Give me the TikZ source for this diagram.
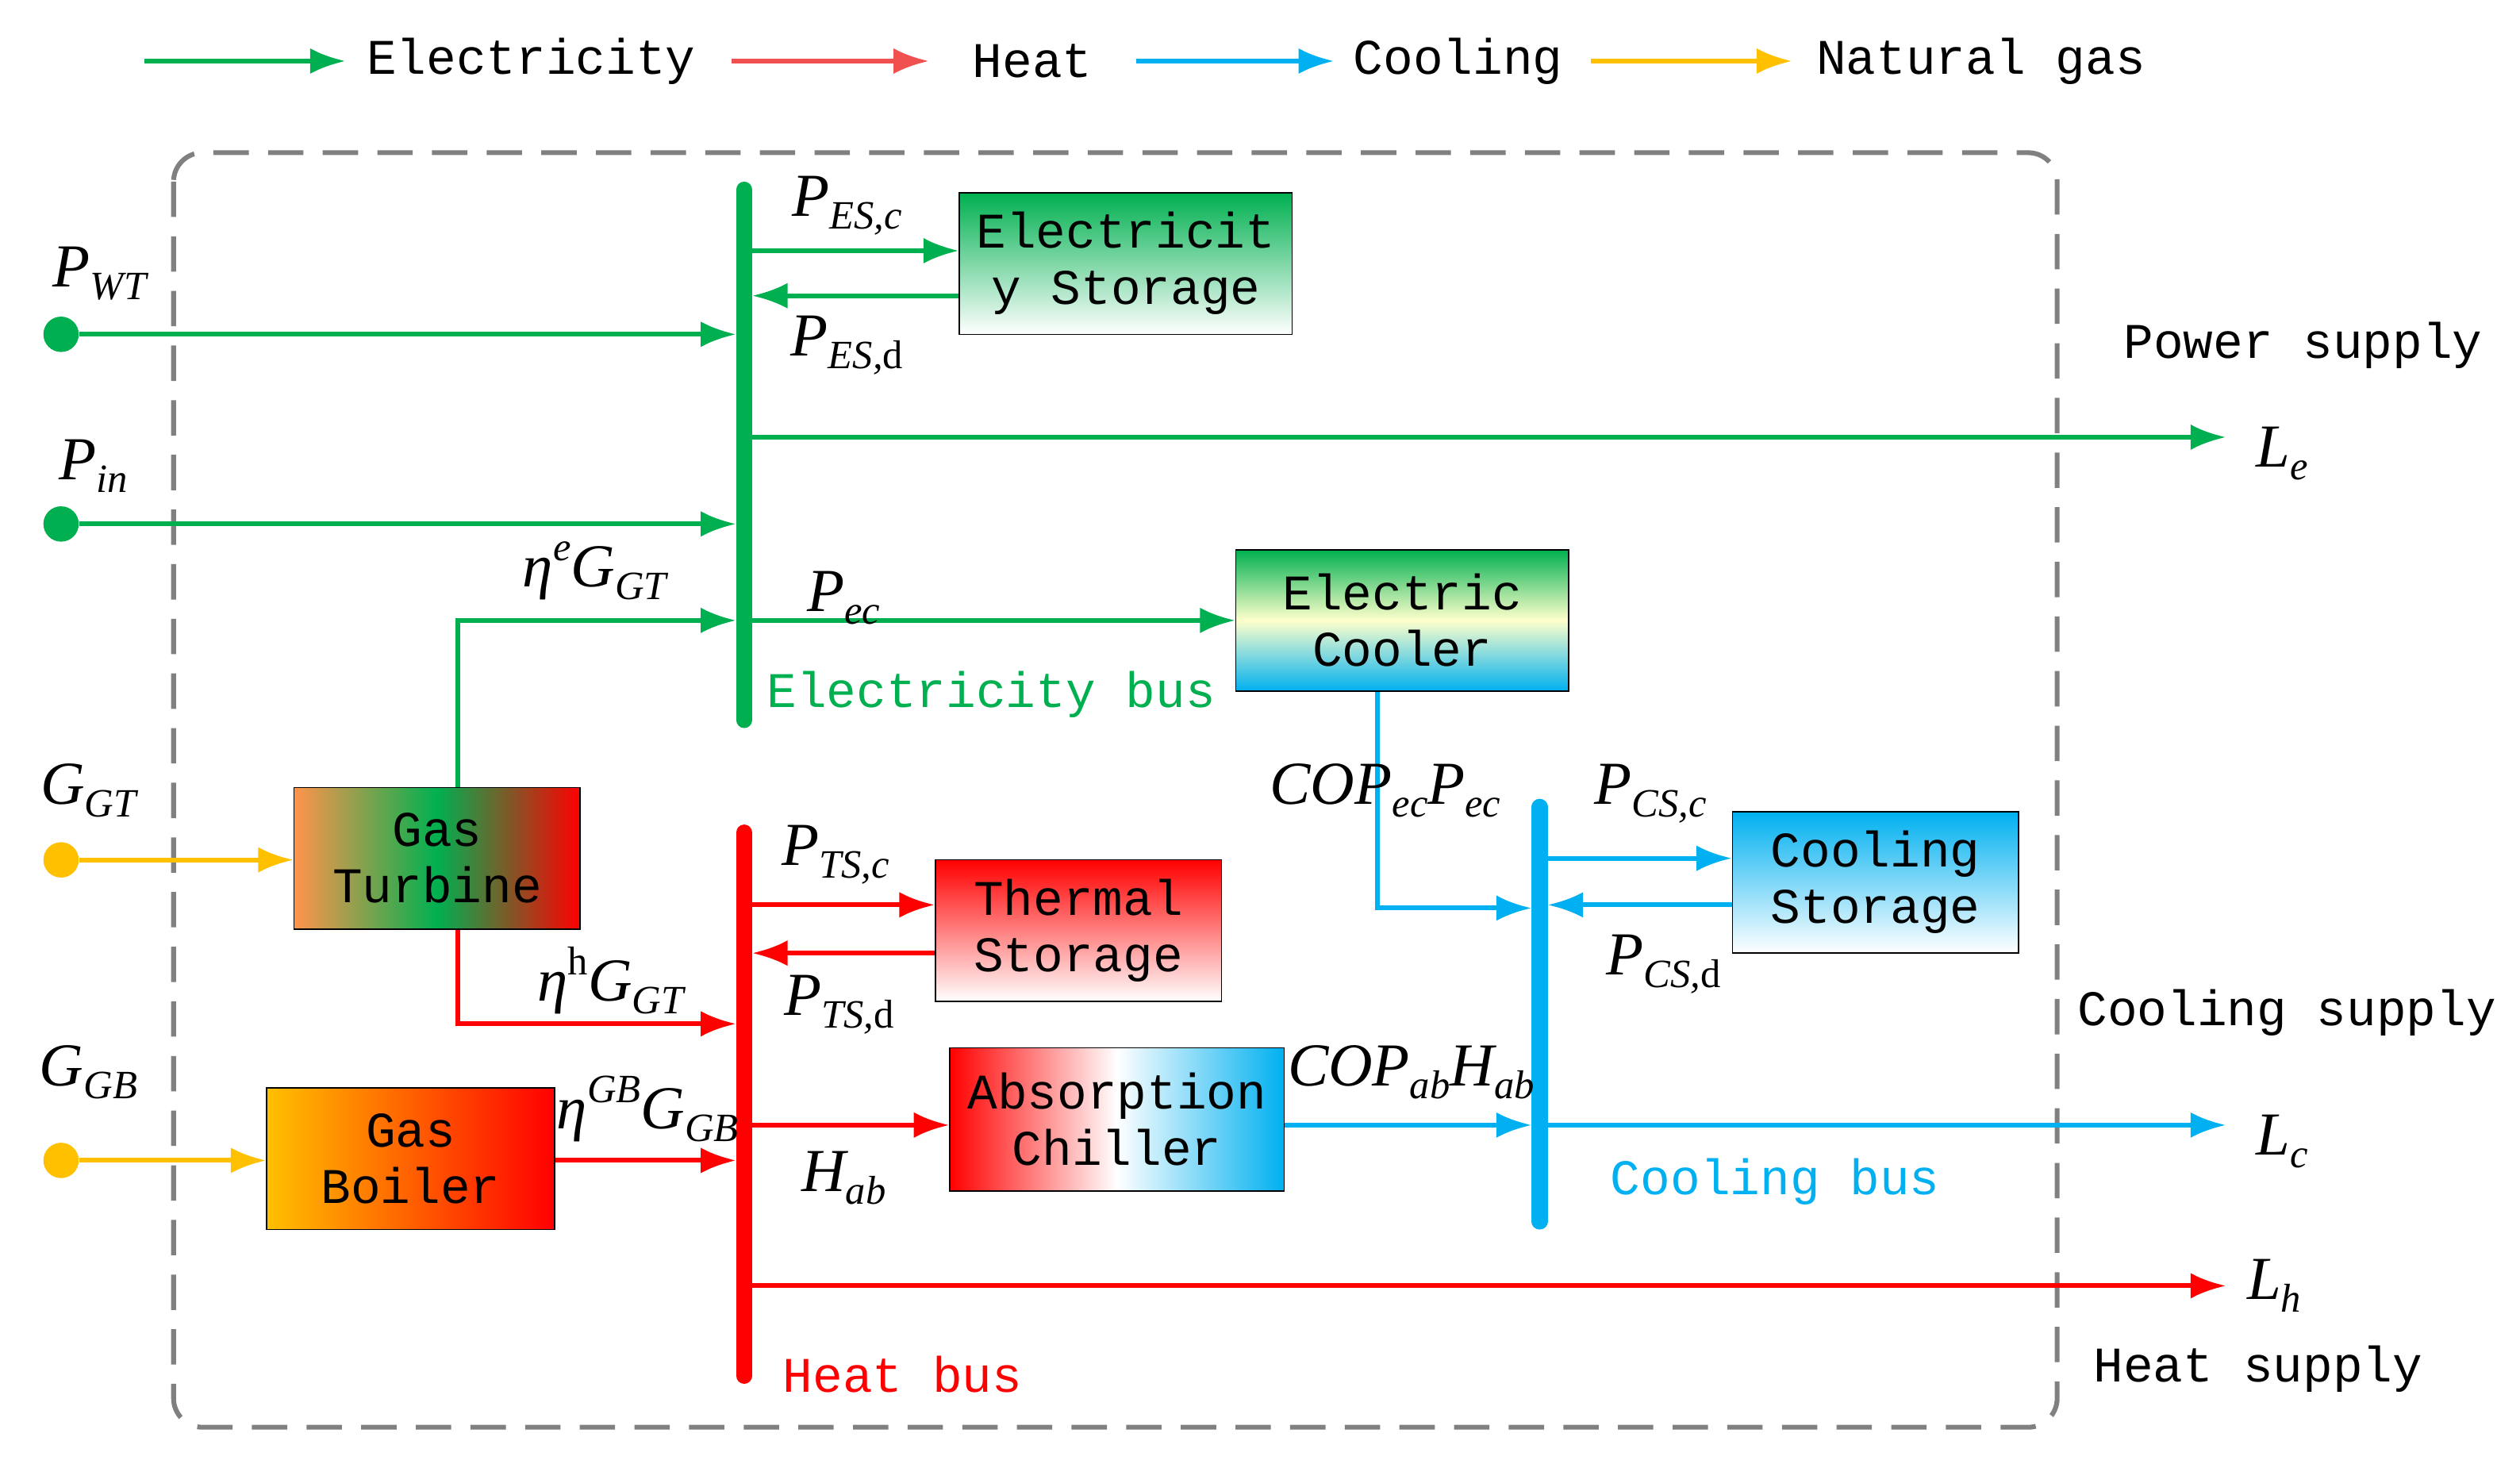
\documentclass[tikz,border=0pt]{standalone}
\usepackage{fontspec}
\setmainfont{Liberation Serif}
\newfontfamily\monof{Liberation Mono}
\usetikzlibrary{arrows.meta,calc}
\definecolor{eg}{RGB}{0,176,80}
\definecolor{hr}{RGB}{255,0,0}
\definecolor{cb}{RGB}{0,176,240}
\definecolor{ng}{RGB}{255,192,0}
\definecolor{lr}{RGB}{240,80,80}
\newcommand\sbx[1]{\raisebox{-0.45ex}{\fontsize{25}{27}\selectfont #1}}
\newcommand\spx[1]{\raisebox{0.95ex}{\fontsize{25}{27}\selectfont #1}}
\begin{document}
\begin{tikzpicture}[x=1pt,y=-1pt,
 box/.style={draw=black,line width=0.8pt,align=center,inner sep=0pt,font=\monof\fontsize{31}{35}\selectfont},
 arr/.style={line width=3pt,-{Latex[length=22pt,width=16pt]}},
 bus/.style={line width=10pt,line cap=round},
 dot/.style={circle,inner sep=0pt,minimum size=22pt},
 mlab/.style={font=\fontsize{38}{42}\selectfont\itshape,inner sep=0pt},
 tlab/.style={font=\monof\fontsize{31}{35}\selectfont,inner sep=0pt}]
\useasboundingbox (0,0) rectangle (1568,910.4);
% legend
\draw[arr,eg] (90,38) coordinate(l1a) -- (215,38) coordinate(l1b);
\node[tlab,anchor=west] (t1) at (228,38) {Electricity};
\draw[arr,lr] (455,38) coordinate(l2a) -- (578,38) coordinate(l2b);
\node[tlab,anchor=west] (t2) at (605,38) {Heat};
\draw[arr,cb] (707,38) coordinate(l3a) -- (830,38) coordinate(l3b);
\node[tlab,anchor=west] (t3) at (842,38) {Cooling};
\draw[arr,ng] (990,38) coordinate(l4a) -- (1115,38) coordinate(l4b);
\node[tlab,anchor=west] (t4) at (1130,38) {Natural gas};
% frame
\draw[gray,line width=3pt,dash pattern=on 22pt off 12pt,rounded corners=18pt] (108,95) rectangle (1280,888);
% buses
\coordinate (ebT) at (463,118); \coordinate (ebB) at (463,448);
\coordinate (hbT) at (463,518); \coordinate (hbB) at (463,856);
\coordinate (cbT) at (958,502); \coordinate (cbB) at (958,760);
\draw[bus,eg] (ebT) -- (ebB);
\draw[bus,hr] (hbT) -- (hbB);
\draw[bus,cb] (cbT) -- (cbB);
\node[tlab,text=eg,anchor=west] (ebl) at (477,432) {Electricity bus};
\node[tlab,text=hr,anchor=west] (hbl) at (487,855) {Heat bus};
\node[tlab,text=cb,anchor=west] (cbl) at (1002,735) {Cooling bus};
% boxes
\node[box,minimum width=207pt,minimum height=88pt,top color=eg,bottom color=white] (es) at (700.5,164) {Electricit\\y Storage};
\node[box,minimum width=207pt,minimum height=88pt,top color=eg,bottom color=cb,middle color=white!80!yellow] (ec) at (872.5,386) {Electric\\Cooler};
\node[box,minimum width=178pt,minimum height=88pt,shading angle=135,left color=orange!80!red!70,right color=hr,middle color=eg] (gt) at (272,534) {Gas\\Turbine};
\node[box,minimum width=179pt,minimum height=88pt,left color=ng,right color=hr] (gb) at (255.5,721) {Gas\\Boiler};
\node[box,minimum width=178pt,minimum height=88pt,top color=hr,bottom color=white] (ts) at (671,579) {Thermal\\Storage};
\node[box,minimum width=208pt,minimum height=89pt,left color=hr,right color=cb,middle color=white] (ac) at (695,696.5) {Absorption\\Chiller};
\node[box,minimum width=178pt,minimum height=88pt,top color=cb,bottom color=white] (cs) at (1167,549) {Cooling\\Storage};
% sources
\node[dot,fill=eg] (pwt) at (38,208) {};
\node[dot,fill=eg] (pin) at (38,326) {};
\node[dot,fill=ng] (ggt) at (38,535) {};
\node[dot,fill=ng] (ggb) at (38,722) {};
\node[mlab] at (62,170) {P\sbx{WT}};
\node[mlab] at (58,290) {P\sbx{in}};
\node[mlab] at (55,492) {G\sbx{GT}};
\node[mlab] at (55,667) {G\sbx{GB}};
\draw[arr,eg] (pwt) -- ([xshift=-5pt]ebT |- pwt);
\draw[arr,eg] (pin) -- ([xshift=-5pt]ebT |- pin);
\draw[arr,ng] (ggt) -- (gt.west |- ggt);
\draw[arr,ng] (ggb) -- (gb.west |- ggb);
% electricity
\draw[arr,eg] ([xshift=5pt]ebT |- 0,156) -- (es.west |- 0,156);
\draw[arr,eg] (es.west |- 0,184) -- ([xshift=5pt]ebT |- 0,184);
\node[mlab] at (527,128) {P\sbx{ES,c}};
\node[mlab] at (527,215) {P\sbx{ES,\upshape d}};
\coordinate (le) at (1385,272);
\draw[arr,eg] ([xshift=5pt]ebT |- le) -- (le);
\node[mlab] at (1420,282) {L\sbx{e}};
\node[tlab] at (1433,215) {Power supply};
\draw[arr,eg] (gt.north -| 285,0) |- ([xshift=-5pt]ebT |- 0,386);
\node[mlab] at (370,355) {η\spx{e}G\sbx{GT}};
\draw[arr,eg] ([xshift=5pt]ebT |- ec.west) -- (ec.west);
\node[mlab] at (525,372) {P\sbx{ec}};
% cooling
\draw[arr,cb] (ec.south -| 857,0) |- ([xshift=-5pt]cbT |- 0,565);
\node[mlab] at (862,492) {COP\sbx{ec}P\sbx{ec}};
\draw[arr,cb] ([xshift=5pt]cbT |- 0,534) -- (cs.west |- 0,534);
\draw[arr,cb] (cs.west |- 0,563) -- ([xshift=5pt]cbT |- 0,563);
\node[mlab] at (1027,494) {P\sbx{CS,c}};
\node[mlab] at (1035,600) {P\sbx{CS,\upshape d}};
\draw[arr,cb] (ac.east |- 0,700) -- ([xshift=-5pt]cbT |- 0,700);
\node[mlab] at (878,667) {COP\sbx{ab}H\sbx{ab}};
\coordinate (lc) at (1385,700);
\draw[arr,cb] ([xshift=5pt]cbT |- lc) -- (lc);
\node[mlab] at (1420,710) {L\sbx{c}};
\node[tlab] at (1423,630) {Cooling supply};
% heat
\draw[arr,hr] (gt.south -| 285,0) |- ([xshift=-5pt]hbT |- 0,637);
\node[mlab] at (380,610) {η\spx{\upshape h}G\sbx{GT}};
\draw[arr,hr] (gb.east |- 0,722) -- ([xshift=-5pt]hbT |- 0,722);
\node[mlab] at (403,690) {η\spx{GB}G\sbx{GB}};
\draw[arr,hr] ([xshift=5pt]hbT |- 0,563) -- (ts.west |- 0,563);
\draw[arr,hr] (ts.west |- 0,593) -- ([xshift=5pt]hbT |- 0,593);
\node[mlab] at (520,532) {P\sbx{TS,c}};
\node[mlab] at (522,625) {P\sbx{TS,\upshape d}};
\draw[arr,hr] ([xshift=5pt]hbT |- 0,700) -- (ac.west |- 0,700);
\node[mlab] at (525,733) {H\sbx{ab}};
\coordinate (lh) at (1385,800);
\draw[arr,hr] ([xshift=5pt]hbT |- lh) -- (lh);
\node[mlab] at (1415,800) {L\sbx{h}};
\node[tlab] at (1405,852) {Heat supply};
\end{tikzpicture}
\end{document}
